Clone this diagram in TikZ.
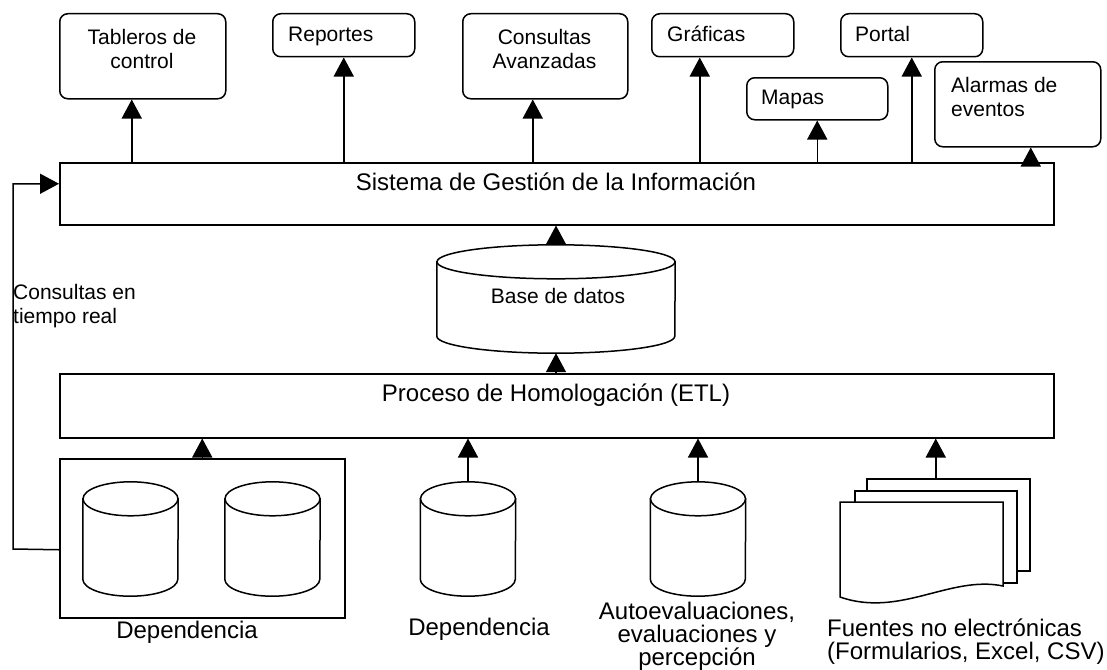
\documentclass[tikz,border=0pt]{standalone}
\usepackage{fontspec}
\setmainfont{Liberation Sans}
\usetikzlibrary{arrows.meta,calc}
\newcommand\drawcyl[2]{%
  \draw[ln, fill=white] ([yshift=-17pt]#1.north west) -- ([yshift=17pt]#1.south west)
     arc[start angle=180, end angle=360, x radius=#2, y radius=17pt]
     -- ([yshift=-17pt]#1.north east) -- cycle;
  \draw[ln, fill=white] ([yshift=-17pt]#1.north) ellipse[x radius=#2, y radius=17pt];
}
\begin{document}
\begin{tikzpicture}[x=1pt,y=-1pt,
  ln/.style={line width=1.5pt},
  rbox/.style={draw, line width=1.5pt, rounded corners=8pt, fill=white, inner sep=0pt, anchor=north west},
  sbox/.style={draw, line width=1.5pt, fill=white, inner sep=0pt, anchor=north west},
  cylnode/.style={inner sep=0pt},
  arr/.style={line width=1.5pt, -{Triangle[length=19pt,width=20pt]}},
  sm/.style={font=\fontsize{21}{24}\selectfont, inner sep=0pt},
  bg/.style={font=\fontsize{24}{23}\selectfont, inner sep=0pt},
]
\fill[white] (0,0) rectangle (1107,669);
\useasboundingbox (0,0) rectangle (1107,669);

% output boxes
\node[rbox, minimum width=166pt, minimum height=85pt] (tab) at (59,13) {};
\node[rbox, minimum width=142pt, minimum height=43pt] (rep) at (272,13) {};
\node[rbox, minimum width=165pt, minimum height=85pt] (cons) at (462,13) {};
\node[rbox, minimum width=142pt, minimum height=43pt] (graf) at (651,13) {};
\node[rbox, minimum width=142pt, minimum height=43pt] (port) at (840,13) {};
\node[rbox, minimum width=141pt, minimum height=42pt] (map) at (746,77) {};
\node[rbox, minimum width=166pt, minimum height=85pt] (alar) at (934,61) {};

\node[sm, align=center, anchor=north] (tabT) at (142,29) {Tableros de\\control};
\node[sm, anchor=base west] (repT) at (288,41.5) {Reportes};
\node[sm, align=center, anchor=north] (consT) at (544.5,29) {Consultas\\Avanzadas};
\node[sm, anchor=base west] (grafT) at (667,41.5) {Gráficas};
\node[sm, anchor=base west] (portT) at (855,41.5) {Portal};
\node[sm, anchor=base west] (mapT) at (761,104.5) {Mapas};
\node[sm, align=left, anchor=north west] (alarT) at (951,77) {Alarmas de\\eventos};

% main bars
\node[sbox, minimum width=994pt, minimum height=62pt] (sis) at (59,162) {};
\node[bg, anchor=base] (sisT) at (556,190.6) {Sistema de Gestión de la Información};
\node[sbox, minimum width=994pt, minimum height=64pt] (pro) at (59,373) {};
\node[bg, anchor=base] (proT) at (556,401.6) {Proceso de Homologación (ETL)};

\node[sm, align=left, anchor=north west] (rtT) at (13,284) {Consultas en\\tiempo real};

% database
\node[cylnode, minimum width=238pt, minimum height=108pt] (db) at (556,299) {};
\drawcyl{db}{119pt}
\node[sm, anchor=base] (dbT) at (558,303.5) {Base de datos};

% sources
\node[sbox, minimum width=285pt, minimum height=159pt] (dep) at (59,458) {};
\node[cylnode, minimum width=95pt, minimum height=114pt] (c1) at (130.5,539) {};
\drawcyl{c1}{47.5pt}
\node[cylnode, minimum width=95pt, minimum height=114pt] (c2) at (272.5,539) {};
\drawcyl{c2}{47.5pt}
\node[cylnode, minimum width=95pt, minimum height=114pt] (c3) at (468,539) {};
\drawcyl{c3}{47.5pt}
\node[cylnode, minimum width=95pt, minimum height=114pt] (c4) at (698,539) {};
\drawcyl{c4}{47.5pt}

\node[sbox, minimum width=163pt, minimum height=92pt] (doc1) at (866,478) {};
\node[sbox, minimum width=162pt, minimum height=92pt] (doc2) at (854,490) {};
\draw[ln, fill=white] (840,502) -- (1003,502) -- (1003,586)
   .. controls (950,575) and (900,618) .. (840,597) -- cycle;

\node[bg, anchor=base] (depT1) at (187,638.6) {Dependencia};
\node[bg, anchor=base] (depT2) at (479,635.6) {Dependencia};
\node[bg, align=center, anchor=north] (autoT) at (697,602) {Autoevaluaciones,\\evaluaciones y\\percepción};
\node[bg, align=left, anchor=north west] (fuT) at (827,619) {Fuentes no electrónicas\\(Formularios, Excel, CSV)};

% connectors
\coordinate (aTab) at ([xshift=-11pt]tab.south);
\coordinate (aCons) at ([xshift=-12.5pt]cons.south);
\coordinate (aGraf) at ([xshift=-23pt]graf.south);
\coordinate (aAlar) at ([xshift=13pt]alar.south);
\draw[arr] (aTab |- sis.north) -- (aTab);
\draw[arr] (rep.south |- sis.north) -- (rep.south);
\draw[arr] (aCons |- sis.north) -- (aCons);
\draw[arr] (aGraf |- sis.north) -- (aGraf);
\draw[arr] (map.south |- sis.north) -- (map.south);
\draw[arr] (port.south |- sis.north) -- (port.south);
\draw[arr] (aAlar |- sis.north) -- (aAlar);

\draw[arr] (db.north) -- (db.north |- sis.south);
\draw[arr] (db.south |- pro.north) -- (db.south);

\draw[arr] (dep.north) -- (dep.north |- pro.south);
\draw[arr] (c3.north) -- (c3.north |- pro.south);
\draw[arr] (c4.north) -- (c4.north |- pro.south);
\coordinate (docTop) at ([xshift=-12.5pt]doc1.north);
\draw[arr] (docTop) -- (docTop |- pro.south);

\coordinate (fbA) at ([yshift=-11.5pt]dep.west);
\coordinate (fbB) at ([yshift=10pt]sis.west);
\coordinate (fbL) at (13,549);
\draw[arr] (fbA) -- (fbL) |- (fbB);
\end{tikzpicture}
\end{document}
